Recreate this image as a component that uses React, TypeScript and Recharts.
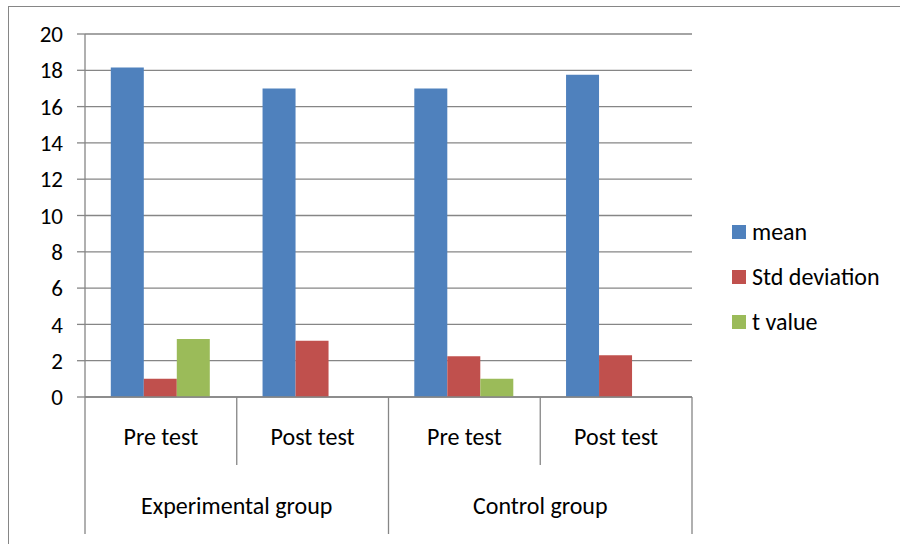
import React from "react";
import { BarChart, Bar, XAxis, YAxis, CartesianGrid } from "recharts";

const tests = ["Pre test", "Post test", "Pre test", "Post test"];
const groups = ["Experimental group", "Experimental group", "Control group", "Control group"];
const meanValues = [18.15, 17.0, 17.0, 17.75];
const stdValues = [1.0, 3.1, 2.25, 2.3];
const tValues: (number | null)[] = [3.2, null, 1.0, null];
const yTicks = [0, 2, 4, 6, 8, 10, 12, 14, 16, 18, 20];
const seriesKeys = ["mean", "std", "t"];
const seriesNames = ["mean", "Std deviation", "t value"];
const seriesColors = ["#4F81BD", "#C0504D", "#9BBB59"];

const data = tests.map((t, i) => ({
  key: String(i),
  test: t,
  group: groups[i],
  mean: meanValues[i],
  std: stdValues[i],
  t: tValues[i],
}));

const FONT = "Carlito, Lato, sans-serif";
const W = 900;
const H = 544;
const MARGIN = { top: 34, right: 208, bottom: 0, left: 0 };
const YAXIS_W = 85;
const XAXIS_H = 147;
const PLOT_W = W - MARGIN.left - MARGIN.right - YAXIS_W;
const BAND = PLOT_W / tests.length;
const AXIS_COLOR = "#868686";
const LABEL_SIZE = 24;

function CategoryTick(props: any) {
  const { x, y, index } = props;
  const row = data[index];
  if (!row) return null;
  const left = x - BAND / 2;
  const right = x + BAND / 2;
  const groupStart = index === 0 || data[index - 1].group !== row.group;
  let groupSpan = 0;
  if (groupStart) {
    let j = index;
    while (j < data.length && data[j].group === row.group) j++;
    groupSpan = j - index;
  }
  return (
    <g>
      <line x1={left} y1={y} x2={left} y2={y + (groupStart ? 137 : 68)} stroke={AXIS_COLOR} strokeWidth={1.3} />
      {index === data.length - 1 && (
        <line x1={right} y1={y} x2={right} y2={y + 137} stroke={AXIS_COLOR} strokeWidth={1.3} />
      )}
      <text x={x} y={y + 48} textAnchor="middle" fontSize={LABEL_SIZE} fontFamily={FONT} fill="#000">
        {row.test}
      </text>
      {groupStart && (
        <text
          x={left + (groupSpan * BAND) / 2}
          y={y + 117}
          textAnchor="middle"
          fontSize={LABEL_SIZE}
          fontFamily={FONT}
          fill="#000"
        >
          {row.group}
        </text>
      )}
    </g>
  );
}

export default function App() {
  return (
    <div style={{ position: "absolute", left: 0, top: 0, width: W, height: H, background: "#fff" }}>
      <div
        style={{
          position: "absolute",
          left: 8,
          top: 6,
          width: W - 8,
          height: H - 6,
          borderTop: `1.5px solid ${AXIS_COLOR}`,
          borderLeft: `1.5px solid ${AXIS_COLOR}`,
          boxSizing: "border-box",
        }}
      />
      <div style={{ position: "absolute", left: 0, top: 0 }}>
        <BarChart
          width={W}
          height={H}
          data={data}
          margin={MARGIN}
          barCategoryGap="17%"
          barGap={0}
        >
          <CartesianGrid vertical={false} stroke={AXIS_COLOR} strokeWidth={1.3} />
          <XAxis
            dataKey="key"
            height={XAXIS_H}
            axisLine={{ stroke: AXIS_COLOR, strokeWidth: 1.3 }}
            tickLine={false}
            tickSize={0}
            tickMargin={0}
            interval={0}
            tick={<CategoryTick />}
          />
          <YAxis
            width={YAXIS_W}
            domain={[0, 20]}
            ticks={yTicks}
            interval={0}
            axisLine={{ stroke: AXIS_COLOR, strokeWidth: 1.3 }}
            tickLine={{ stroke: AXIS_COLOR, strokeWidth: 1.3 }}
            tickSize={8}
            tickMargin={14}
            tick={{ fill: "#000", fontSize: 23, fontFamily: FONT }}
          />
          {seriesKeys.map((k, i) => (
            <Bar
              key={k}
              dataKey={k}
              name={seriesNames[i]}
              fill={seriesColors[i]}
              isAnimationActive={false}
            />
          ))}
        </BarChart>
      </div>
      <div style={{ position: "absolute", left: 732, top: 209, fontFamily: FONT, fontSize: LABEL_SIZE, color: "#000" }}>
        {seriesNames.map((n, i) => (
          <div key={n} style={{ display: "flex", alignItems: "center", height: 45 }}>
            <span style={{ display: "inline-block", width: 14, height: 14, background: seriesColors[i], marginRight: 6 }} />
            <span>{n}</span>
          </div>
        ))}
      </div>
    </div>
  );
}
